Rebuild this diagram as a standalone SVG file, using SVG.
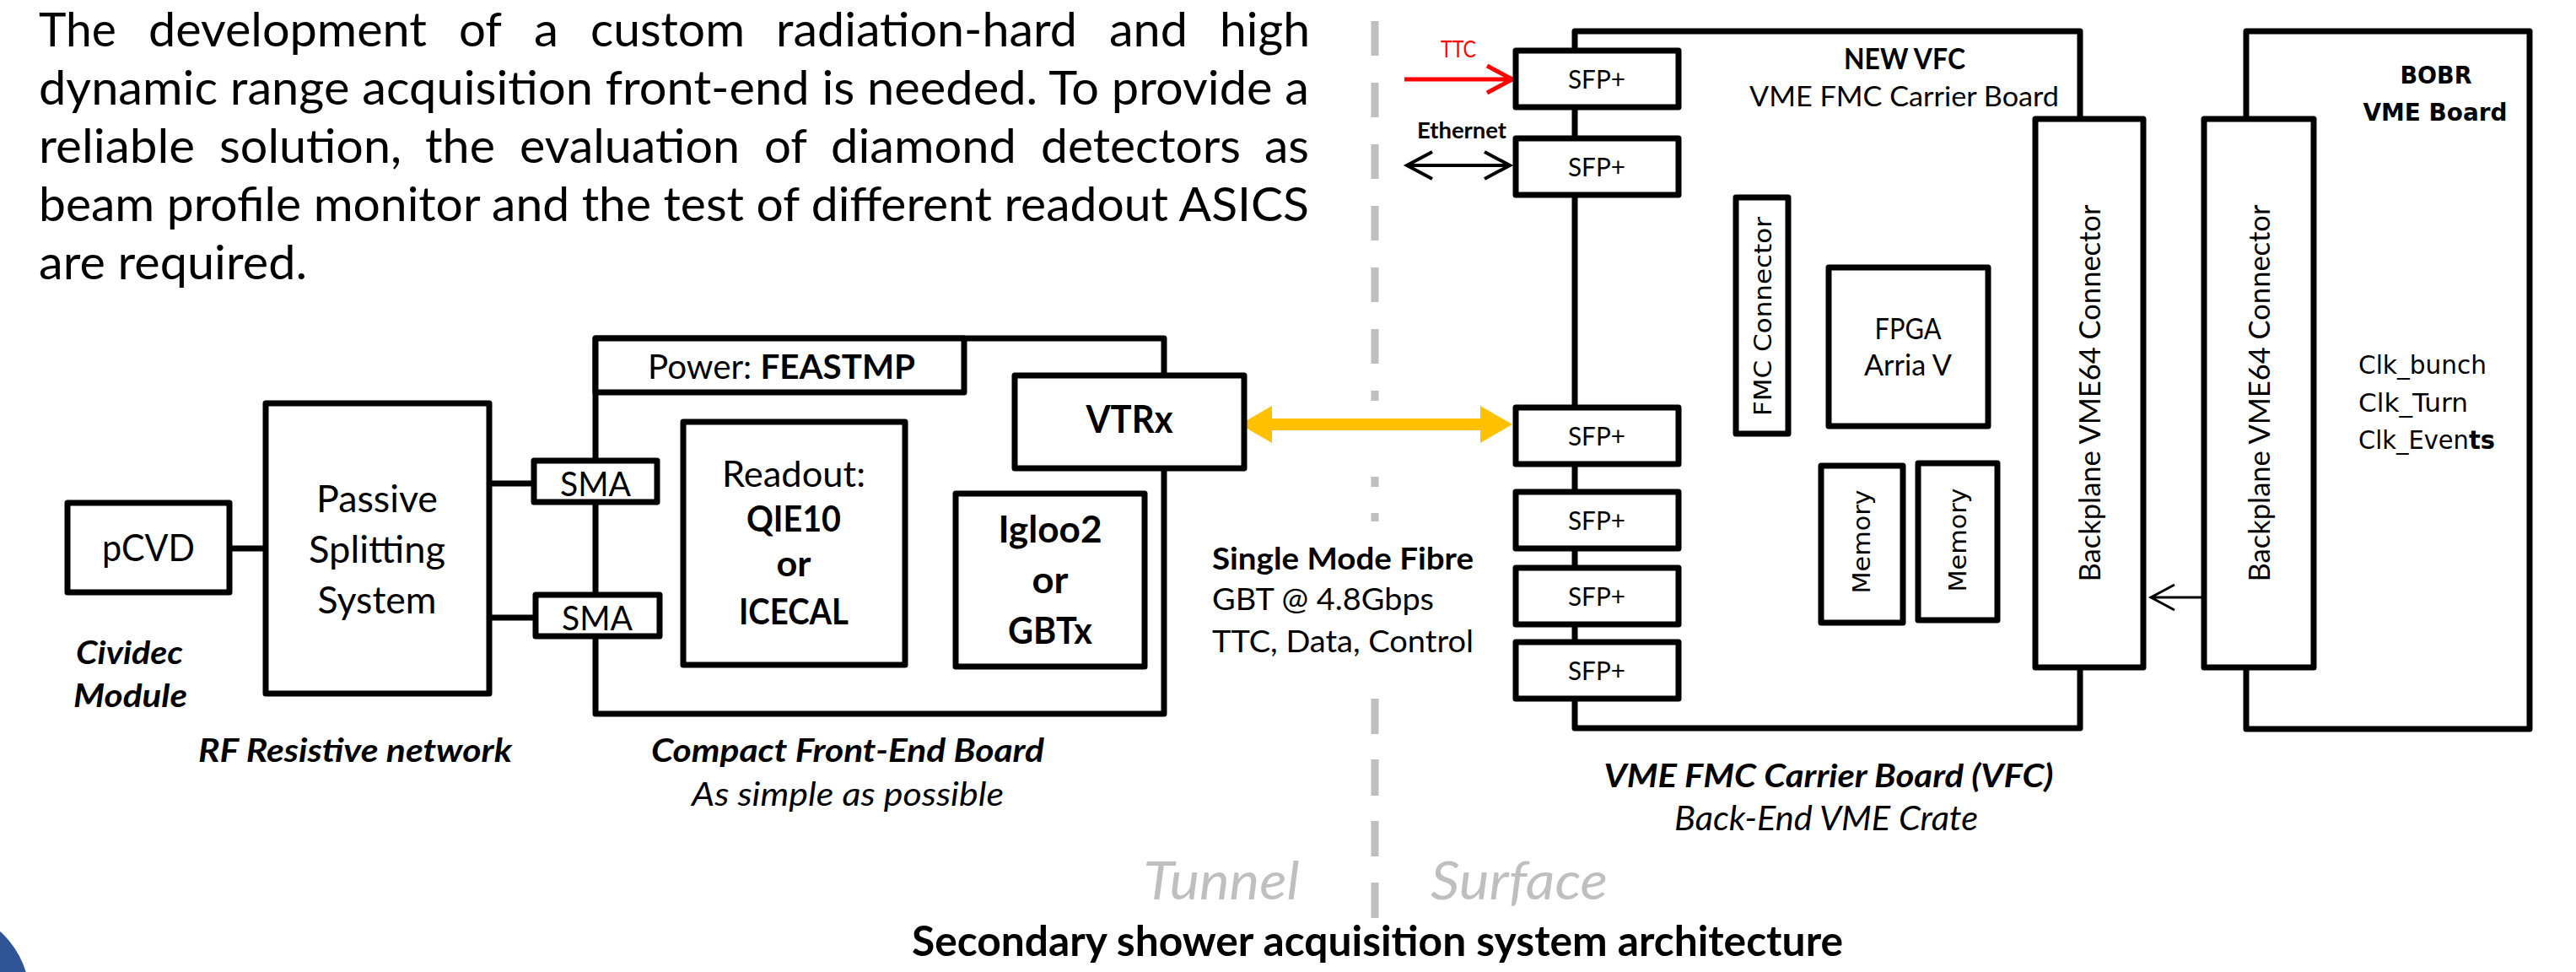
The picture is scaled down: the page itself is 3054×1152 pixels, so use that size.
<svg xmlns="http://www.w3.org/2000/svg" width="3054" height="1152" viewBox="0 0 3054 1152">
<style>
.bx{fill:#fff;stroke:#000;stroke-width:7;stroke-linejoin:round}
.ln{fill:none;stroke:#000;stroke-width:7}
text{font-family:Lato,"Liberation Sans",sans-serif;fill:#000}
.c{text-anchor:middle}
.b{font-weight:700}
.i{font-style:italic}
.g{font-family:"DejaVu Sans","Liberation Sans",sans-serif}
.p{font-size:56px}
.gray{fill:#bfbfbf}
</style>
<defs>
<marker id="chev" viewBox="0 0 10 10" refX="9" refY="5" markerWidth="8" markerHeight="8" orient="auto-start-reverse" markerUnits="userSpaceOnUse"><path d="M1 1L9 5L1 9" fill="none" stroke="context-stroke"/></marker>
</defs>
<rect width="3054" height="1152" fill="#fff"/>

<g id="paragraph">
<text class="p" x="46" y="55" textLength="92" lengthAdjust="spacingAndGlyphs">The</text>
<text class="p" x="176" y="55" textLength="330" lengthAdjust="spacingAndGlyphs">development</text>
<text class="p" x="544" y="55" textLength="51" lengthAdjust="spacingAndGlyphs">of</text>
<text class="p" x="633" y="55" textLength="29" lengthAdjust="spacingAndGlyphs">a</text>
<text class="p" x="700" y="55" textLength="183" lengthAdjust="spacingAndGlyphs">custom</text>
<text class="p" x="920" y="55" textLength="357" lengthAdjust="spacingAndGlyphs">radiation-hard</text>
<text class="p" x="1315" y="55" textLength="93" lengthAdjust="spacingAndGlyphs">and</text>
<text class="p" x="1446" y="55" textLength="107" lengthAdjust="spacingAndGlyphs">high</text>
<text class="p" x="46" y="124" textLength="1506" lengthAdjust="spacingAndGlyphs">dynamic range acquisition front-end is needed. To provide a</text>
<text class="p" x="46" y="193" textLength="185" lengthAdjust="spacingAndGlyphs">reliable</text>
<text class="p" x="260" y="193" textLength="216" lengthAdjust="spacingAndGlyphs">solution,</text>
<text class="p" x="504" y="193" textLength="83" lengthAdjust="spacingAndGlyphs">the</text>
<text class="p" x="616" y="193" textLength="261" lengthAdjust="spacingAndGlyphs">evaluation</text>
<text class="p" x="906" y="193" textLength="51" lengthAdjust="spacingAndGlyphs">of</text>
<text class="p" x="985" y="193" textLength="220" lengthAdjust="spacingAndGlyphs">diamond</text>
<text class="p" x="1234" y="193" textLength="237" lengthAdjust="spacingAndGlyphs">detectors</text>
<text class="p" x="1499" y="193" textLength="53" lengthAdjust="spacingAndGlyphs">as</text>
<text class="p" x="46" y="262" textLength="1506" lengthAdjust="spacingAndGlyphs">beam profile monitor and the test of different readout ASICS</text>
<text class="p" x="46" y="331" textLength="318" lengthAdjust="spacingAndGlyphs">are required.</text>
</g>

<g id="divider">
<path d="M1630 25V66M1630 98V139M1630 171V212M1630 244V285M1630 317V358M1630 390V431M1630 463V475M1630 565V577M1630 608V618M1630 828V870M1630 900V943M1630 973V1015M1630 1046V1088" fill="none" stroke="#bfbfbf" stroke-width="9"/>
<text class="i gray c" x="1448" y="1066" font-size="62" textLength="185" lengthAdjust="spacingAndGlyphs">Tunnel</text>
<text class="i gray c" x="1801" y="1066" font-size="62" textLength="210" lengthAdjust="spacingAndGlyphs">Surface</text>
</g>

<g id="connectors">
<path class="ln" d="M272 650H315M580 573H633M580 732H635"/>
<polygon fill="#FFC000" points="1470,503 1508,481 1508,496 1755,496 1755,481 1793,503 1755,525 1755,510 1508,510 1508,525"/>
<path d="M1665 94H1791M1763 78L1793 94L1763 110" fill="none" stroke="#ff0000" stroke-width="5"/>
<path d="M1670 196H1788M1698 180L1668 196L1698 212M1760 180L1790 196L1760 212" fill="none" stroke="#000" stroke-width="4"/>
<path d="M2611 708H2552M2578 693L2550 708L2578 723" fill="none" stroke="#000" stroke-width="3"/>
</g>

<g id="pcvd">
<rect class="bx" x="80" y="596" width="192" height="106"/>
<text class="c" x="176" y="665" font-size="44" textLength="110" lengthAdjust="spacingAndGlyphs">pCVD</text>
<text class="b i" x="90" y="787" font-size="38" textLength="127" lengthAdjust="spacingAndGlyphs">Cividec</text>
<text class="b i" x="87" y="838" font-size="38" textLength="135" lengthAdjust="spacingAndGlyphs">Module</text>
</g>

<g id="passive-splitting">
<rect class="bx" x="315" y="478" width="265" height="344"/>
<text class="c" x="447" y="607" font-size="44" textLength="144" lengthAdjust="spacingAndGlyphs">Passive</text>
<text class="c" x="447" y="667" font-size="44" textLength="162" lengthAdjust="spacingAndGlyphs">Splitting</text>
<text class="c" x="447" y="727" font-size="44" textLength="141" lengthAdjust="spacingAndGlyphs">System</text>
<text class="b i c" x="421" y="903" font-size="39" textLength="372" lengthAdjust="spacingAndGlyphs">RF Resistive network</text>
</g>

<g id="front-end-board">
<rect class="bx" x="706" y="401" width="674" height="445"/>
<text class="b i c" x="1005" y="903" font-size="39" textLength="466" lengthAdjust="spacingAndGlyphs">Compact Front-End Board</text>
<text class="i c" x="1005" y="955" font-size="39" textLength="370" lengthAdjust="spacingAndGlyphs">As simple as possible</text>
</g>

<g id="power">
<rect class="bx" x="706" y="401" width="437" height="64"/>
<text x="768" y="449" font-size="40" textLength="317" lengthAdjust="spacingAndGlyphs">Power: <tspan class="b">FEASTMP</tspan></text>
</g>

<g id="readout">
<rect class="bx" x="810" y="500" width="263" height="288"/>
<text class="c" x="941" y="577" font-size="42" textLength="170" lengthAdjust="spacingAndGlyphs">Readout:</text>
<text class="c b" x="941" y="630" font-size="42" textLength="112" lengthAdjust="spacingAndGlyphs">QIE10</text>
<text class="c b" x="941" y="683" font-size="42" textLength="41" lengthAdjust="spacingAndGlyphs">or</text>
<text class="c b" x="941" y="740" font-size="42" textLength="130" lengthAdjust="spacingAndGlyphs">ICECAL</text>
</g>

<g id="igloo2">
<rect class="bx" x="1133" y="585" width="224" height="205"/>
<text class="c b" x="1245" y="643" font-size="44" textLength="123" lengthAdjust="spacingAndGlyphs">Igloo2</text>
<text class="c b" x="1245" y="703" font-size="44" textLength="43" lengthAdjust="spacingAndGlyphs">or</text>
<text class="c b" x="1245" y="763" font-size="44" textLength="100" lengthAdjust="spacingAndGlyphs">GBTx</text>
</g>

<g id="vtrx">
<rect class="bx" x="1203" y="445" width="272" height="110"/>
<text class="c b" x="1339" y="513" font-size="45" textLength="103" lengthAdjust="spacingAndGlyphs">VTRx</text>
</g>

<g id="sma-1">
<rect class="bx" x="633" y="546" width="146" height="49"/>
<text class="c" x="706" y="588" font-size="41" textLength="84" lengthAdjust="spacingAndGlyphs">SMA</text>
</g>
<g id="sma-2">
<rect class="bx" x="635" y="705" width="147" height="49"/>
<text class="c" x="708" y="747" font-size="41" textLength="84" lengthAdjust="spacingAndGlyphs">SMA</text>
</g>

<g id="fibre-label">
<text class="b" x="1437" y="675" font-size="37" textLength="310" lengthAdjust="spacingAndGlyphs">Single Mode Fibre</text>
<text x="1437" y="723" font-size="37" textLength="263" lengthAdjust="spacingAndGlyphs">GBT @ 4.8Gbps</text>
<text x="1437" y="773" font-size="37" textLength="310" lengthAdjust="spacingAndGlyphs">TTC, Data, Control</text>
</g>

<g id="vfc">
<rect class="bx" x="1867" y="37" width="599" height="826"/>
<text class="b" x="2186" y="82" font-size="34" textLength="144" lengthAdjust="spacingAndGlyphs">NEW VFC</text>
<text x="2074" y="126" font-size="32" textLength="367" lengthAdjust="spacingAndGlyphs">VME FMC Carrier  Board</text>
<text class="b i c" x="2168" y="933" font-size="38" textLength="533" lengthAdjust="spacingAndGlyphs">VME FMC Carrier Board (VFC)</text>
<text class="i c" x="2165" y="984" font-size="40" textLength="360" lengthAdjust="spacingAndGlyphs">Back-End VME Crate</text>
</g>

<g id="ttc-label">
<text class="c" x="1729" y="68" font-size="26" fill="#ff0000" style="fill:#ff0000" textLength="42" lengthAdjust="spacingAndGlyphs">TTC</text>
<text class="c b" x="1733" y="164" font-size="27" textLength="106" lengthAdjust="spacingAndGlyphs">Ethernet</text>
</g>

<g id="sfp-1"><rect class="bx" x="1797" y="60" width="193" height="67"/><text class="c" x="1893" y="105" font-size="31" textLength="68" lengthAdjust="spacingAndGlyphs">SFP+</text></g>
<g id="sfp-2"><rect class="bx" x="1797" y="164" width="193" height="67"/><text class="c" x="1893" y="209" font-size="31" textLength="68" lengthAdjust="spacingAndGlyphs">SFP+</text></g>
<g id="sfp-3"><rect class="bx" x="1797" y="483" width="193" height="67"/><text class="c" x="1893" y="528" font-size="31" textLength="68" lengthAdjust="spacingAndGlyphs">SFP+</text></g>
<g id="sfp-4"><rect class="bx" x="1797" y="583" width="193" height="67"/><text class="c" x="1893" y="628" font-size="31" textLength="68" lengthAdjust="spacingAndGlyphs">SFP+</text></g>
<g id="sfp-5"><rect class="bx" x="1797" y="673" width="193" height="67"/><text class="c" x="1893" y="718" font-size="31" textLength="68" lengthAdjust="spacingAndGlyphs">SFP+</text></g>
<g id="sfp-6"><rect class="bx" x="1797" y="761" width="193" height="67"/><text class="c" x="1893" y="806" font-size="31" textLength="68" lengthAdjust="spacingAndGlyphs">SFP+</text></g>

<g id="fmc-connector">
<rect class="bx" x="2058" y="234" width="62" height="280"/>
<text class="g c" transform="translate(2100,375) rotate(-90)" font-size="28" textLength="236" lengthAdjust="spacingAndGlyphs">FMC Connector</text>
</g>

<g id="fpga">
<rect class="bx" x="2168" y="317" width="189" height="188"/>
<text class="c" x="2262" y="402" font-size="34" textLength="79" lengthAdjust="spacingAndGlyphs">FPGA</text>
<text class="c" x="2262" y="445" font-size="34" textLength="104" lengthAdjust="spacingAndGlyphs">Arria V</text>
</g>

<g id="memory-1">
<rect class="bx" x="2159" y="552" width="97" height="186"/>
<text class="g c" transform="translate(2217,642) rotate(-90)" font-size="28" textLength="123" lengthAdjust="spacingAndGlyphs">Memory</text>
</g>
<g id="memory-2">
<rect class="bx" x="2274" y="549" width="94" height="186"/>
<text class="g c" transform="translate(2331,640) rotate(-90)" font-size="28" textLength="123" lengthAdjust="spacingAndGlyphs">Memory</text>
</g>

<g id="backplane-vfc">
<rect class="bx" x="2413" y="141" width="128" height="650"/>
<text class="c" transform="translate(2490,466) rotate(-90)" font-size="35" textLength="447" lengthAdjust="spacingAndGlyphs">Backplane VME64 Connector</text>
</g>

<g id="bobr">
<rect class="bx" x="2663" y="37" width="336" height="827"/>
<text class="g b c" x="2888" y="99" font-size="28" textLength="85" lengthAdjust="spacingAndGlyphs">BOBR</text>
<text class="g b c" x="2887" y="143" font-size="28" textLength="171" lengthAdjust="spacingAndGlyphs">VME Board</text>
<text class="g" x="2796" y="443" font-size="30" textLength="152" lengthAdjust="spacingAndGlyphs">Clk_bunch</text>
<text class="g" x="2796" y="488" font-size="30" textLength="130" lengthAdjust="spacingAndGlyphs">Clk_Turn</text>
<text class="g" x="2796" y="532" font-size="30" textLength="162" lengthAdjust="spacingAndGlyphs">Clk_Even<tspan class="b">ts</tspan></text>
</g>

<g id="backplane-bobr">
<rect class="bx" x="2613" y="141" width="130" height="650"/>
<text class="c" transform="translate(2691,466) rotate(-90)" font-size="35" textLength="447" lengthAdjust="spacingAndGlyphs">Backplane VME64 Connector</text>
</g>

<g id="caption">
<text class="b c" x="1633" y="1133" font-size="49" textLength="1104" lengthAdjust="spacingAndGlyphs">Secondary shower acquisition system architecture</text>
</g>

<circle cx="-70" cy="1182" r="105" fill="#2f5597"/>
</svg>
